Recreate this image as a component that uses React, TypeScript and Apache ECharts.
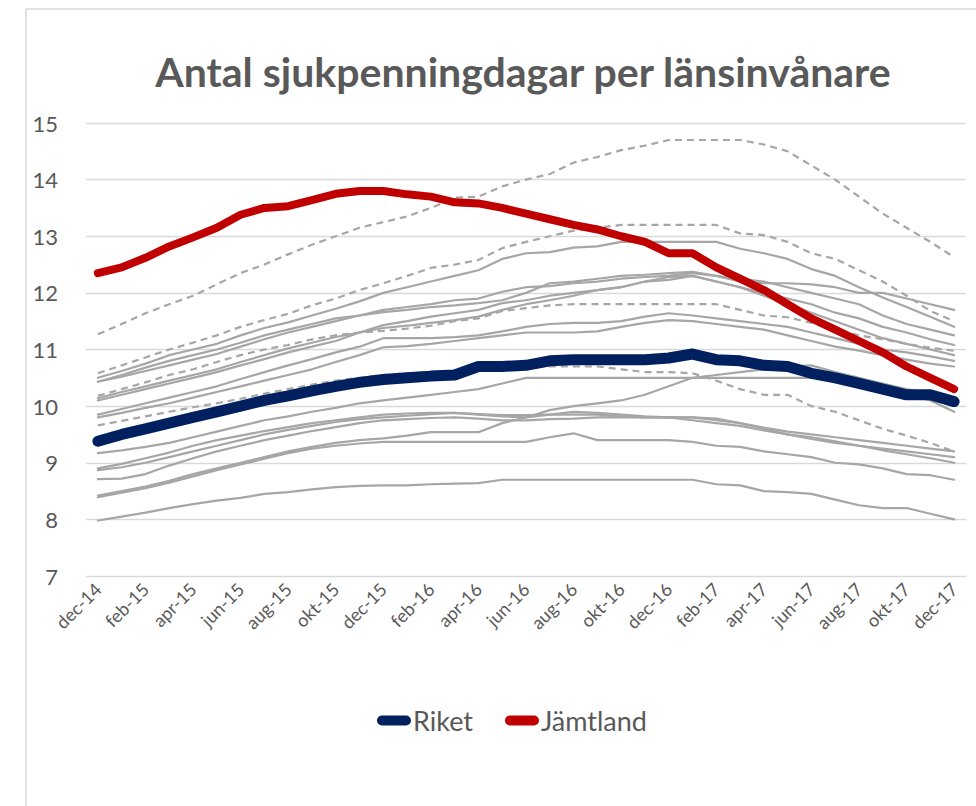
import React, { useEffect, useRef } from "react";
import * as echarts from "echarts";

const months = [
  "dec-14","jan-15","feb-15","mar-15","apr-15","maj-15","jun-15","jul-15","aug-15","sep-15","okt-15","nov-15",
  "dec-15","jan-16","feb-16","mar-16","apr-16","maj-16","jun-16","jul-16","aug-16","sep-16","okt-16","nov-16",
  "dec-16","jan-17","feb-17","mar-17","apr-17","maj-17","jun-17","jul-17","aug-17","sep-17","okt-17","nov-17","dec-17",
];

const riket = [9.38,9.5,9.6,9.7,9.8,9.9,10.0,10.1,10.18,10.27,10.35,10.42,10.47,10.5,10.53,10.55,10.7,10.7,10.72,10.8,10.82,10.82,10.82,10.82,10.85,10.92,10.82,10.8,10.72,10.7,10.58,10.5,10.4,10.3,10.2,10.2,10.08];
const jamtland = [12.35,12.45,12.62,12.82,12.98,13.15,13.38,13.5,13.53,13.64,13.75,13.8,13.8,13.74,13.7,13.6,13.58,13.5,13.4,13.3,13.2,13.12,13.0,12.9,12.7,12.7,12.45,12.25,12.05,11.8,11.55,11.35,11.15,10.95,10.7,10.5,10.3];

// Other counties (grey), dashed ones flagged separately
const lanDashed1 = [11.27,11.45,11.64,11.8,11.95,12.15,12.35,12.5,12.68,12.85,13.0,13.15,13.25,13.35,13.5,13.68,13.7,13.88,14.0,14.1,14.3,14.4,14.52,14.6,14.7,14.7,14.7,14.7,14.62,14.5,14.25,14.0,13.7,13.4,13.15,12.9,12.63];
const lanDashed2 = [10.58,10.72,10.86,11.0,11.12,11.25,11.4,11.52,11.63,11.78,11.9,12.05,12.17,12.3,12.44,12.5,12.58,12.79,12.9,13.0,13.1,13.15,13.2,13.2,13.2,13.2,13.2,13.05,13.02,12.9,12.7,12.6,12.4,12.2,11.95,11.68,11.5];
const lanDashed3 = [10.18,10.3,10.42,10.55,10.65,10.78,10.9,11.0,11.08,11.18,11.25,11.3,11.33,11.37,11.42,11.5,11.55,11.68,11.73,11.78,11.8,11.8,11.8,11.8,11.8,11.8,11.8,11.7,11.6,11.57,11.47,11.35,11.25,11.18,11.1,11.03,10.98];
const lanDashed4 = [9.66,9.74,9.82,9.9,9.98,10.05,10.13,10.22,10.3,10.38,10.45,10.5,10.55,10.58,10.6,10.62,10.7,10.7,10.7,10.7,10.7,10.7,10.65,10.6,10.6,10.58,10.45,10.3,10.2,10.2,10.0,9.9,9.75,9.6,9.48,9.35,9.2];

const lanS1 = [10.5,10.62,10.75,10.9,11.0,11.1,11.25,11.38,11.48,11.6,11.72,11.85,12.0,12.1,12.2,12.3,12.4,12.6,12.7,12.72,12.8,12.82,12.9,12.9,12.9,12.9,12.9,12.78,12.7,12.6,12.42,12.3,12.1,11.92,11.75,11.58,11.4];
const lanS2 = [10.43,10.55,10.68,10.8,10.9,11.0,11.12,11.25,11.35,11.45,11.55,11.6,11.7,11.75,11.8,11.87,11.9,12.02,12.1,12.12,12.17,12.2,12.25,12.28,12.3,12.35,12.3,12.2,12.17,12.17,12.15,12.1,12.0,12.0,11.9,11.8,11.7];
const lanS3 = [10.43,10.52,10.62,10.72,10.82,10.92,11.05,11.18,11.3,11.4,11.5,11.6,11.66,11.7,11.75,11.78,11.82,11.87,12.0,12.17,12.2,12.25,12.3,12.32,12.35,12.37,12.3,12.25,12.2,12.1,12.0,11.9,11.8,11.6,11.45,11.35,11.25];
const lanS4 = [10.1,10.2,10.3,10.4,10.5,10.6,10.72,10.83,10.95,11.05,11.15,11.3,11.38,11.42,11.47,11.52,11.58,11.7,11.8,11.87,11.95,12.05,12.1,12.2,12.28,12.3,12.2,12.1,11.95,11.8,11.65,11.5,11.35,11.2,11.1,11.0,10.9];
const lanS5 = [9.85,9.95,10.05,10.15,10.25,10.35,10.48,10.6,10.72,10.83,10.95,11.05,11.2,11.2,11.2,11.22,11.25,11.32,11.4,11.45,11.47,11.47,11.5,11.58,11.64,11.6,11.55,11.5,11.45,11.4,11.3,11.2,11.1,11.0,10.95,10.88,10.8];
const lanS6 = [9.8,9.88,9.97,10.05,10.15,10.25,10.35,10.45,10.55,10.65,10.78,10.9,11.04,11.06,11.1,11.15,11.2,11.25,11.3,11.3,11.3,11.32,11.4,11.47,11.52,11.5,11.45,11.4,11.35,11.25,11.15,11.05,10.98,10.9,10.82,10.75,10.7];
const lanS7 = [10.14,10.25,10.35,10.45,10.55,10.65,10.78,10.9,11.02,11.12,11.22,11.3,11.43,11.5,11.58,11.64,11.7,11.82,11.87,11.95,12.0,12.05,12.1,12.2,12.23,12.3,12.2,12.1,12.0,11.9,11.8,11.65,11.55,11.4,11.3,11.18,11.08];
const lanA = [9.17,9.22,9.28,9.35,9.45,9.55,9.65,9.75,9.82,9.9,9.97,10.05,10.1,10.15,10.2,10.25,10.3,10.4,10.5,10.5,10.5,10.5,10.5,10.5,10.5,10.5,10.5,10.5,10.5,10.5,10.5,10.5,10.42,10.28,10.2,10.1,9.9];
const lanB = [8.87,8.92,9.0,9.1,9.2,9.3,9.4,9.5,9.58,9.65,9.72,9.77,9.8,9.83,9.86,9.88,9.86,9.84,9.84,9.85,9.85,9.85,9.82,9.8,9.8,9.8,9.75,9.7,9.62,9.55,9.5,9.45,9.4,9.35,9.3,9.25,9.2];
const lanC = [8.71,8.72,8.8,8.95,9.08,9.2,9.3,9.4,9.48,9.56,9.63,9.7,9.75,9.77,9.79,9.8,9.78,9.75,9.75,9.77,9.78,9.8,9.8,9.8,9.8,9.75,9.7,9.65,9.57,9.5,9.45,9.38,9.3,9.22,9.15,9.08,9.0];
const lanE = [8.9,8.98,9.08,9.18,9.3,9.4,9.48,9.56,9.63,9.7,9.75,9.8,9.85,9.87,9.88,9.88,9.85,9.82,9.8,9.85,9.9,9.88,9.85,9.82,9.8,9.8,9.78,9.7,9.6,9.5,9.42,9.35,9.3,9.25,9.2,9.15,9.1];
const lanD1 = [8.39,8.47,8.55,8.65,8.76,8.87,8.97,9.07,9.17,9.25,9.3,9.34,9.37,9.37,9.37,9.37,9.37,9.37,9.37,9.45,9.52,9.4,9.4,9.4,9.4,9.37,9.3,9.28,9.2,9.15,9.1,9.0,8.97,8.9,8.8,8.78,8.7];
const lanD2 = [8.42,8.5,8.58,8.68,8.8,8.9,9.0,9.1,9.2,9.28,9.35,9.4,9.43,9.48,9.54,9.54,9.54,9.7,9.8,9.93,10.0,10.05,10.1,10.2,10.35,10.5,10.55,10.6,10.65,10.7,10.72,10.6,10.5,10.4,10.3,10.22,10.15];
const lanBottom = [7.98,8.05,8.12,8.2,8.27,8.33,8.38,8.45,8.48,8.53,8.57,8.59,8.6,8.6,8.62,8.63,8.64,8.7,8.7,8.7,8.7,8.7,8.7,8.7,8.7,8.7,8.62,8.6,8.5,8.48,8.45,8.35,8.25,8.2,8.2,8.1,8.0];

const dashedCounties = [lanDashed1, lanDashed2, lanDashed3, lanDashed4];
const solidCounties = [lanS1, lanS2, lanS3, lanS4, lanS5, lanS6, lanS7, lanA, lanB, lanC, lanE, lanD1, lanD2, lanBottom];

const GREY = "#a6a6a6";
const TEXT = "#595959";

export default function App() {
  const ref = useRef<HTMLDivElement>(null);

  useEffect(() => {
    if (!ref.current) return;
    const chart = echarts.init(ref.current, null, { renderer: "svg" });

    const base = {
      type: "line",
      symbol: "none",
      showSymbol: false,
      silent: true,
      emphasis: { disabled: true },
    };

    const greySeries: any[] = [];
    solidCounties.forEach((d, i) =>
      greySeries.push({
        ...base,
        name: "Län " + (i + 1),
        data: d,
        lineStyle: { color: GREY, width: 2.2, cap: "round", join: "round" },
        itemStyle: { color: GREY },
      })
    );
    dashedCounties.forEach((d, i) =>
      greySeries.push({
        ...base,
        name: "Län D" + (i + 1),
        data: d,
        lineStyle: { color: GREY, width: 2.2, type: [7, 5], join: "round" },
        itemStyle: { color: GREY },
      })
    );

    const option: any = {
      animation: false,
      title: {
        text: "Antal sjukpenningdagar per länsinvånare",
        left: 518,
        textAlign: "center",
        top: 46,
        textStyle: { fontFamily: "Lato", fontWeight: "bold", fontSize: 41, color: TEXT },
      },
      grid: { left: 86, right: 10, top: 123, bottom: 230 },
      xAxis: {
        type: "category",
        data: months,
        boundaryGap: true,
        axisLine: { show: false },
        axisTick: { show: false },
        axisLabel: { interval: 1, rotate: 45, fontSize: 18, color: TEXT, fontFamily: "Lato", margin: 10 },
      },
      yAxis: {
        type: "value",
        min: 7,
        max: 15,
        interval: 1,
        axisLine: { show: false },
        axisTick: { show: false },
        axisLabel: { fontSize: 22, color: TEXT, fontFamily: "Lato", margin: 28 },
        splitLine: { lineStyle: { color: "#d9d9d9", width: 1.3 } },
      },
      legend: {
        data: ["Riket", "Jämtland"],
        left: 372,
        top: 702,
        itemWidth: 34,
        itemHeight: 11,
        itemGap: 32,
        icon: "path://M5,0 L29,0 A5,5 0 0 1 29,10 L5,10 A5,5 0 0 1 5,0 Z",
        textStyle: { fontSize: 27, color: TEXT, fontFamily: "Lato", padding: [0, 0, 0, -3] },
      },
      graphic: [
        { type: "line", shape: { x1: 26, y1: 9, x2: 26, y2: 806 }, style: { stroke: "#d9d9d9", lineWidth: 1.5 } },
        { type: "line", shape: { x1: 26, y1: 9, x2: 976, y2: 9 }, style: { stroke: "#d9d9d9", lineWidth: 1.5 } },
      ],
      series: [
        ...greySeries,
        {
          ...base,
          name: "Riket",
          data: riket,
          lineStyle: { color: "#002060", width: 11, cap: "round", join: "round" },
          itemStyle: { color: "#002060" },
        },
        {
          ...base,
          name: "Jämtland",
          data: jamtland,
          lineStyle: { color: "#c00000", width: 8, cap: "round", join: "round" },
          itemStyle: { color: "#c00000" },
        },
      ],
    };

    chart.setOption(option);
    return () => chart.dispose();
  }, []);

  return (
    <div
      ref={ref}
      style={{ position: "absolute", left: 0, top: 0, width: 976, height: 806, background: "#fff" }}
    />
  );
}
